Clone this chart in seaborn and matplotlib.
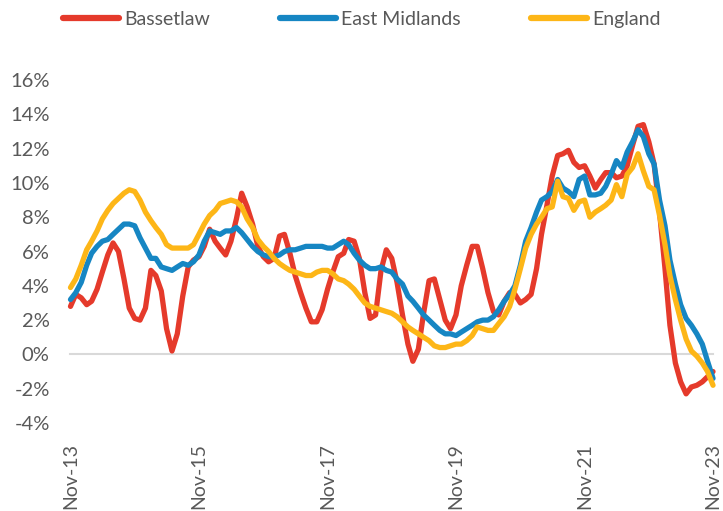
import numpy as np
import pandas as pd
import matplotlib
matplotlib.use("Agg")
import matplotlib.pyplot as plt
import matplotlib.dates as mdates
from matplotlib.ticker import FuncFormatter
import seaborn as sns

# Variação anual (%) - meses de Nov-13 a Nov-23
meses = pd.date_range("2013-11-01", periods=121, freq="MS")

bassetlaw = [
    2.8, 3.5, 3.3, 2.9, 3.1, 3.8, 4.8, 5.8, 6.5, 6.0,
    4.4, 2.7, 2.1, 2.0, 2.7, 4.9, 4.6, 3.7, 1.5, 0.2,
    1.2, 3.4, 5.1, 5.5, 5.7, 6.3, 7.3, 6.6, 6.2, 5.8,
    6.6, 7.9, 9.4, 8.6, 7.6, 6.3, 5.7, 5.4, 5.6, 6.9,
    7.0, 5.9, 4.6, 3.6, 2.7, 1.9, 1.9, 2.6, 3.8, 4.8,
    5.7, 5.9, 6.7, 6.6, 5.6, 3.6, 2.1, 2.3, 4.9, 6.1,
    5.6, 4.2, 2.3, 0.6, -0.4, 0.3, 2.4, 4.3, 4.4, 3.2,
    2.0, 1.5, 2.3, 4.0, 5.2, 6.3, 6.3, 5.0, 3.6, 2.5,
    2.3, 3.1, 3.6, 3.5, 3.0, 3.2, 3.5, 5.0, 7.0, 8.7,
    10.4, 11.6, 11.7, 11.9, 11.2, 10.9, 11.0, 10.4, 9.7, 10.2,
    10.6, 10.6, 10.3, 10.4, 11.0, 12.2, 13.3, 13.4, 12.4, 11.1,
    8.3, 5.0, 1.7, -0.5, -1.6, -2.3, -1.9, -1.8, -1.6, -1.3,
    -1.0,
]

east_midlands = [
    3.2, 3.6, 4.2, 5.2, 5.9, 6.3, 6.6, 6.7, 7.0, 7.3,
    7.6, 7.6, 7.5, 6.8, 6.2, 5.6, 5.6, 5.1, 5.0, 4.9,
    5.1, 5.3, 5.2, 5.4, 5.8, 6.6, 7.2, 7.1, 7.0, 7.2,
    7.2, 7.4, 7.1, 6.7, 6.3, 6.0, 5.8, 5.7, 5.7, 5.8,
    6.0, 6.1, 6.1, 6.2, 6.3, 6.3, 6.3, 6.3, 6.2, 6.2,
    6.4, 6.6, 6.4, 5.9, 5.5, 5.2, 5.0, 5.0, 5.1, 4.9,
    4.8, 4.4, 4.1, 3.4, 3.1, 2.7, 2.3, 2.0, 1.7, 1.4,
    1.2, 1.2, 1.1, 1.3, 1.5, 1.7, 1.9, 2.0, 2.0, 2.2,
    2.6, 3.1, 3.5, 4.0, 5.2, 6.6, 7.4, 8.3, 9.0, 9.2,
    9.5, 10.2, 9.7, 9.5, 9.2, 10.2, 10.4, 9.3, 9.3, 9.4,
    9.8, 10.5, 11.3, 10.9, 11.8, 12.4, 13.1, 12.7, 11.7, 11.1,
    9.0, 7.5, 5.5, 4.1, 2.9, 2.1, 1.7, 1.2, 0.6, -0.4,
    -1.4,
]

england = [
    3.9, 4.4, 5.2, 6.1, 6.6, 7.2, 7.9, 8.4, 8.8, 9.1,
    9.4, 9.6, 9.5, 9.0, 8.3, 7.8, 7.4, 7.0, 6.4, 6.2,
    6.2, 6.2, 6.2, 6.4, 7.0, 7.6, 8.1, 8.4, 8.8, 8.9,
    9.0, 8.9, 8.6, 7.9, 7.4, 6.7, 6.3, 6.0, 5.6, 5.3,
    5.1, 4.9, 4.8, 4.7, 4.6, 4.6, 4.8, 4.9, 4.9, 4.7,
    4.4, 4.3, 4.1, 3.8, 3.4, 3.0, 2.8, 2.7, 2.6, 2.5,
    2.4, 2.2, 1.9, 1.6, 1.4, 1.2, 1.0, 0.8, 0.5, 0.4,
    0.4, 0.5, 0.6, 0.6, 0.8, 1.1, 1.6, 1.5, 1.4, 1.4,
    1.8, 2.2, 2.8, 3.8, 5.0, 6.2, 7.0, 7.6, 8.0, 8.5,
    8.6, 10.1, 9.2, 9.1, 8.4, 8.9, 9.0, 8.0, 8.3, 8.5,
    8.7, 9.0, 9.9, 9.2, 10.5, 10.9, 11.7, 10.7, 9.8, 9.6,
    8.1, 6.4, 4.6, 3.2, 2.0, 0.9, 0.2, -0.1, -0.5, -1.0,
    -1.8,
]

series = ["Bassetlaw", "East Midlands", "England"]
cores = {"Bassetlaw": "#E53A2B", "East Midlands": "#1686C3", "England": "#FDB617"}

df = pd.DataFrame({
    "mes": np.tile(meses, 3),
    "valor": bassetlaw + east_midlands + england,
    "area": np.repeat(series, len(meses)),
})

sns.set_style("white")
plt.rcParams["font.family"] = ["Lato", "DejaVu Sans"]
cinza = "#595959"

fig = plt.figure(figsize=(7.23, 5.11), dpi=100)
ax = fig.add_axes([0.0975, 0.1722, 0.8887, 0.6712])

sns.lineplot(data=df, x="mes", y="valor", hue="area", hue_order=series,
             palette=cores, linewidth=3.8, ax=ax, clip_on=False,
             solid_capstyle="round", solid_joinstyle="round")

# Eixos
ax.set_xlim(meses[0], meses[-1])
ax.set_ylim(-4, 16)
ax.set_yticks(np.arange(-4, 17, 2))
ax.yaxis.set_major_formatter(FuncFormatter(lambda v, p: f"{v:.0f}%"))
ax.tick_params(axis="y", length=0, pad=15, labelsize=14.5, labelcolor=cinza)

ax.set_xticks(meses[::24])
ax.xaxis.set_major_formatter(mdates.DateFormatter("%b-%y"))
ax.tick_params(axis="x", direction="out", length=5, width=1.2, color="#d9d9d9",
               pad=59, labelsize=14, labelcolor=cinza, labelrotation=90)
for lbl in ax.get_xticklabels():
    lbl.set_fontfamily("Liberation Sans")

for lado in ["top", "right", "left"]:
    ax.spines[lado].set_visible(False)
ax.spines["bottom"].set_position(("data", 0))
ax.spines["bottom"].set_color("#d9d9d9")
ax.spines["bottom"].set_linewidth(1.5)
ax.spines["bottom"].set_zorder(0)
ax.set_xlabel("")
ax.set_ylabel("")

# Legenda no topo
handles, labels = ax.get_legend_handles_labels()
ax.get_legend().remove()
for h in handles:
    h.set_linewidth(4.5)
    h.set_solid_capstyle("round")
fig.legend(handles, labels, loc="center", bbox_to_anchor=(0.50, 0.962), ncol=3,
           frameon=False, handlelength=2.9, handletextpad=0.25, columnspacing=3.6,
           fontsize=14, labelcolor=cinza)

fig.savefig("out.png", dpi=100)
